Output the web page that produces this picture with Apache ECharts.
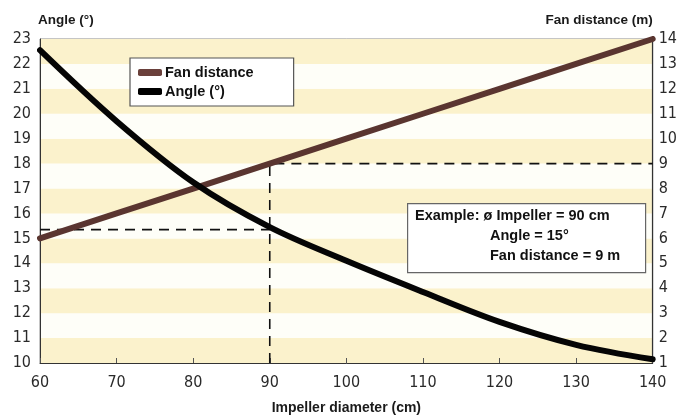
<!DOCTYPE html>
<html>
<head>
<meta charset="utf-8">
<script src="https://cdn.jsdelivr.net/npm/echarts@6/dist/echarts.min.js"></script>
<style>html,body{margin:0;padding:0;background:#fff;}#c{width:680px;height:420px;}</style>
</head>
<body>
<div id="c"></div>
<script>
// ---- data ----
const diameters = [60, 70, 80, 90, 100, 110, 120, 130, 140];
const angleValues = [22.55, 19.7, 17.25, 15.45, 14.1, 12.85, 11.65, 10.73, 10.15];
const fanDiameters = [60, 70, 80, 90, 100, 110, 120, 130, 140];
const fanValues = [6.0, 7.0, 8.0, 9.0, 10.0, 11.0, 12.0, 13.0, 14.0];
const exampleDiameter = 90;
const exampleAngle = 15.35;
const exampleFan = 9;
const xTicks = [60, 70, 80, 90, 100, 110, 120, 130, 140];
const leftTicks = [10, 23];
const rightTicks = [1, 14];
const labels = {
  xName: 'Impeller diameter (cm)',
  leftName: 'Angle (°)',
  rightName: 'Fan distance (m)',
  fan: 'Fan distance',
  angle: 'Angle (°)',
  ex1: 'Example: ø Impeller = 90 cm',
  ex2: 'Angle = 15°',
  ex3: 'Fan distance = 9 m'
};

const chart = echarts.init(document.getElementById('c'), null, {renderer: 'canvas'});
const tickFont = {fontFamily: 'DejaVu Sans Condensed', fontSize: 16, color: '#2a2a2a'};
const boldFont = 'Liberation Sans';

const option = {
  backgroundColor: '#ffffff',
  animation: false,
  grid: {left: 40, right: 23, top: 39, bottom: 57, show: true, borderColor: '#8a8a8a', borderWidth: 1, backgroundColor: 'transparent'},
  legend: {
    data: [labels.fan, labels.angle],
    orient: 'vertical',
    left: 130, top: 58,
    backgroundColor: '#ffffff',
    borderColor: '#555',
    borderWidth: 1.2,
    padding: [7, 40, 7, 8],
    itemGap: 4,
    itemWidth: 24,
    itemHeight: 7,
    icon: 'roundRect',
    textStyle: {fontFamily: boldFont, fontWeight: 'bold', fontSize: 14.5, color: '#111', padding: [0, 0, 0, -2]}
  },
  xAxis: {
    type: 'value', min: xTicks[0], max: xTicks[xTicks.length - 1], interval: 10,
    name: labels.xName, nameLocation: 'middle', nameGap: 38,
    nameTextStyle: {fontFamily: boldFont, fontWeight: 'bold', fontSize: 14, color: '#1a1a1a'},
    axisLine: {show: true, lineStyle: {color: '#333', width: 1}},
    axisTick: {show: true, inside: true, length: 5, lineStyle: {color: '#555'}},
    axisLabel: Object.assign({margin: 12}, tickFont),
    splitLine: {show: false}
  },
  yAxis: [
    {
      type: 'value', min: leftTicks[0], max: leftTicks[1], interval: 1, position: 'left',
      name: labels.leftName, nameLocation: 'end', nameGap: 12,
      nameTextStyle: {fontFamily: boldFont, fontWeight: 'bold', fontSize: 13.5, color: '#1a1a1a', align: 'left', padding: [0, 0, 0, -2]},
      axisLine: {show: true, lineStyle: {color: '#333', width: 1}},
      axisTick: {show: false},
      axisLabel: Object.assign({margin: 9}, tickFont),
      splitLine: {show: false},
      splitArea: {show: true, areaStyle: {color: ['#FBF2CC', '#FEFEF8']}}
    },
    {
      type: 'value', min: rightTicks[0], max: rightTicks[1], interval: 1, position: 'right',
      name: labels.rightName, nameLocation: 'end', nameGap: 12,
      nameTextStyle: {fontFamily: boldFont, fontWeight: 'bold', fontSize: 13.5, color: '#1a1a1a', align: 'right', padding: [0, 0, 0, 0]},
      axisLine: {show: true, lineStyle: {color: '#333', width: 1.2}},
      axisTick: {show: false},
      axisLabel: Object.assign({margin: 6}, tickFont),
      splitLine: {show: false},
      splitArea: {show: false}
    }
  ],
  series: [
    {
      name: labels.fan, type: 'line', yAxisIndex: 1,
      data: fanDiameters.map((d, i) => [d, fanValues[i]]),
      showSymbol: false, symbol: 'none',
      itemStyle: {color: '#6a403b'},
      lineStyle: {color: '#5a3530', width: 6, cap: 'round'},
      z: 3
    },
    {
      name: labels.angle, type: 'line', yAxisIndex: 0, smooth: 0.35,
      data: diameters.map((d, i) => [d, angleValues[i]]),
      showSymbol: false, symbol: 'none',
      itemStyle: {color: '#000'},
      lineStyle: {color: '#050505', width: 6, cap: 'round'},
      z: 4
    },
    {
      name: 'guideAngle', type: 'line', yAxisIndex: 0,
      data: [[xTicks[0], exampleAngle], [exampleDiameter, exampleAngle]],
      showSymbol: false, symbol: 'none', silent: true,
      lineStyle: {color: '#111', width: 1.6, type: [10, 7]},
      z: 2
    },
    {
      name: 'guideFan', type: 'line', yAxisIndex: 1,
      data: [[exampleDiameter, rightTicks[0]], [exampleDiameter, exampleFan], [xTicks[xTicks.length - 1], exampleFan]],
      showSymbol: false, symbol: 'none', silent: true,
      lineStyle: {color: '#111', width: 1.6, type: [10, 7]},
      z: 2
    }
  ],
  graphic: {
    elements: [
      {type: 'rect', left: 407, top: 203, z: 100, shape: {width: 238, height: 69}, style: {fill: '#ffffff', stroke: '#666', lineWidth: 1.2}},
      {type: 'text', left: 415, top: 208, z: 101, style: {text: labels.ex1, font: 'bold 14.5px "Liberation Sans"', fill: '#111'}},
      {type: 'text', left: 490, top: 228, z: 101, style: {text: labels.ex2, font: 'bold 14.5px "Liberation Sans"', fill: '#111'}},
      {type: 'text', left: 490, top: 248, z: 101, style: {text: labels.ex3, font: 'bold 14.5px "Liberation Sans"', fill: '#111'}}
    ]
  }
};
chart.setOption(option);
</script>
</body>
</html>
